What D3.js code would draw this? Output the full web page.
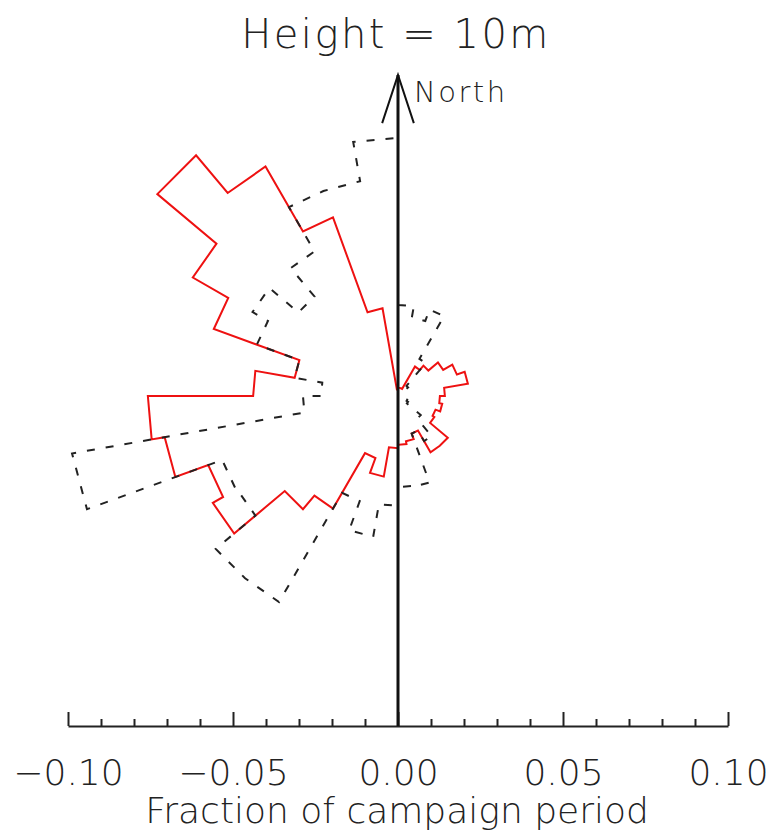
<!DOCTYPE html>
<html>
<head>
<meta charset="utf-8">
<script src="https://cdn.jsdelivr.net/npm/d3@7"></script>
<style>
  html, body { margin: 0; padding: 0; background: #fff; }
  svg { display: block; }
  text { font-family: "DejaVu Sans", sans-serif; fill: #222; font-weight: 200; }
</style>
</head>
<body>
<svg id="chart" width="770" height="833"></svg>
<script>
// Direction bins (degrees clockwise from North, start of each 10° bin)
const directions = [0,10,20,30,40,50,60,70,80,90,100,110,120,130,140,150,160,170,
                    180,190,200,210,220,230,240,250,260,270,280,290,300,310,320,330,340,350];
const binWidth = 10;

// Red solid series: fraction of campaign period per direction bin
const redSeries = [0.0025,0.0025,0.0025,0.0103,0.0120,0.0158,0.0190,0.0215,0.0142,0.0127,
                   0.0136,0.0121,0.0127,0.0197,0.0197,0.0121,0.0139,0.0148,0.0158,0.0248,
                   0.0200,0.0394,0.0448,0.0648,0.0612,0.0718,0.0758,0.0439,0.0318,0.0594,
                   0.0718,0.0952,0.0803,0.0576,0.0270,0.0020];

// Black dashed series
const blackSeries = [0.0276,0.0242,0.0279,0.0130,0.0040,0.0030,0.0030,0.0030,0.0030,0.0030,
                     0.0030,0.0030,0.0035,0.0090,0.0158,0.0121,0.0279,0.0276,0.0333,0.0433,
                     0.0339,0.0721,0.0721,0.0564,0.0567,0.1003,0.0288,0.0233,0.0318,0.0455,
                     0.0509,0.0394,0.0506,0.0661,0.0661,0.0782];

const majorTicks = [-0.10, -0.05, 0.00, 0.05, 0.10];
const minorTicks = [-0.09,-0.08,-0.07,-0.06,-0.04,-0.03,-0.02,-0.01,
                    0.01,0.02,0.03,0.04,0.06,0.07,0.08,0.09];

const titleText = "Height = 10m";
const xLabelText = "Fraction of campaign period";
const northText = "North";

const svg = d3.select("#chart");

const x = d3.scaleLinear().domain([-0.1, 0.1]).range([68, 728]);
const y = d3.scaleLinear().domain([-0.1, 0.1]).range([726, 66]);

function outline(values) {
  const pts = [];
  directions.forEach((d, i) => {
    const v = values[i];
    [d, d + binWidth].forEach(a => {
      const rad = a * Math.PI / 180;
      pts.push([v * Math.sin(rad), v * Math.cos(rad)]);
    });
  });
  return pts;
}

const line = d3.line()
  .x(p => x(p[0]))
  .y(p => y(p[1]))
  .curve(d3.curveLinearClosed);

svg.append("path")
  .attr("d", line(outline(redSeries)))
  .attr("fill", "none")
  .attr("stroke", "#ee1111")
  .attr("stroke-width", 2)
  .attr("stroke-linejoin", "miter");

svg.append("path")
  .attr("d", line(outline(blackSeries)))
  .attr("fill", "none")
  .attr("stroke", "#222")
  .attr("stroke-width", 2)
  .attr("stroke-dasharray", "8,11");

// Bottom axis with major and minor ticks pointing up
const axisY = y(-0.1);
const majorAxis = d3.axisBottom(x)
  .tickValues(majorTicks)
  .tickSize(-14)
  .tickSizeOuter(0)
  .tickPadding(0)
  .tickFormat(d3.format(".2f"));
const gMajor = svg.append("g").attr("transform", `translate(0,${axisY})`).call(majorAxis);
gMajor.select(".domain").attr("stroke", "#222").attr("stroke-width", 2);
gMajor.selectAll(".tick line").attr("stroke", "#222").attr("stroke-width", 2);
gMajor.selectAll(".tick text")
  .attr("y", 59)
  .attr("dy", null)
  .attr("font-size", 36)
  .attr("font-family", "DejaVu Sans, sans-serif")
  .attr("font-weight", 200)
  .attr("fill", "#222");

const minorAxis = d3.axisBottom(x)
  .tickValues(minorTicks)
  .tickSize(-7)
  .tickSizeOuter(0)
  .tickFormat("");
const gMinor = svg.append("g").attr("transform", `translate(0,${axisY})`).call(minorAxis);
gMinor.select(".domain").remove();
gMinor.selectAll(".tick line").attr("stroke", "#222").attr("stroke-width", 2);

// North line with arrow
const cx = x(0);
svg.append("line")
  .attr("x1", cx).attr("x2", cx)
  .attr("y1", axisY).attr("y2", y(0.0973))
  .attr("stroke", "#111").attr("stroke-width", 3);
svg.append("path")
  .attr("d", `M${x(-0.0048)},${y(0.0827)} L${cx},${y(0.0973)} L${x(0.0048)},${y(0.0827)}`)
  .attr("fill", "none").attr("stroke", "#111").attr("stroke-width", 2);

svg.append("text")
  .attr("x", 414).attr("y", 102)
  .attr("font-size", 29)
  .attr("letter-spacing", 2.5)
  .text(northText);

svg.append("text")
  .attr("x", 396).attr("y", 48)
  .attr("text-anchor", "middle")
  .attr("font-size", 40)
  .attr("letter-spacing", 2.5)
  .text(titleText);

svg.append("text")
  .attr("x", 397).attr("y", 823)
  .attr("text-anchor", "middle")
  .attr("font-size", 36)
  .text(xLabelText);
</script>
</body>
</html>
